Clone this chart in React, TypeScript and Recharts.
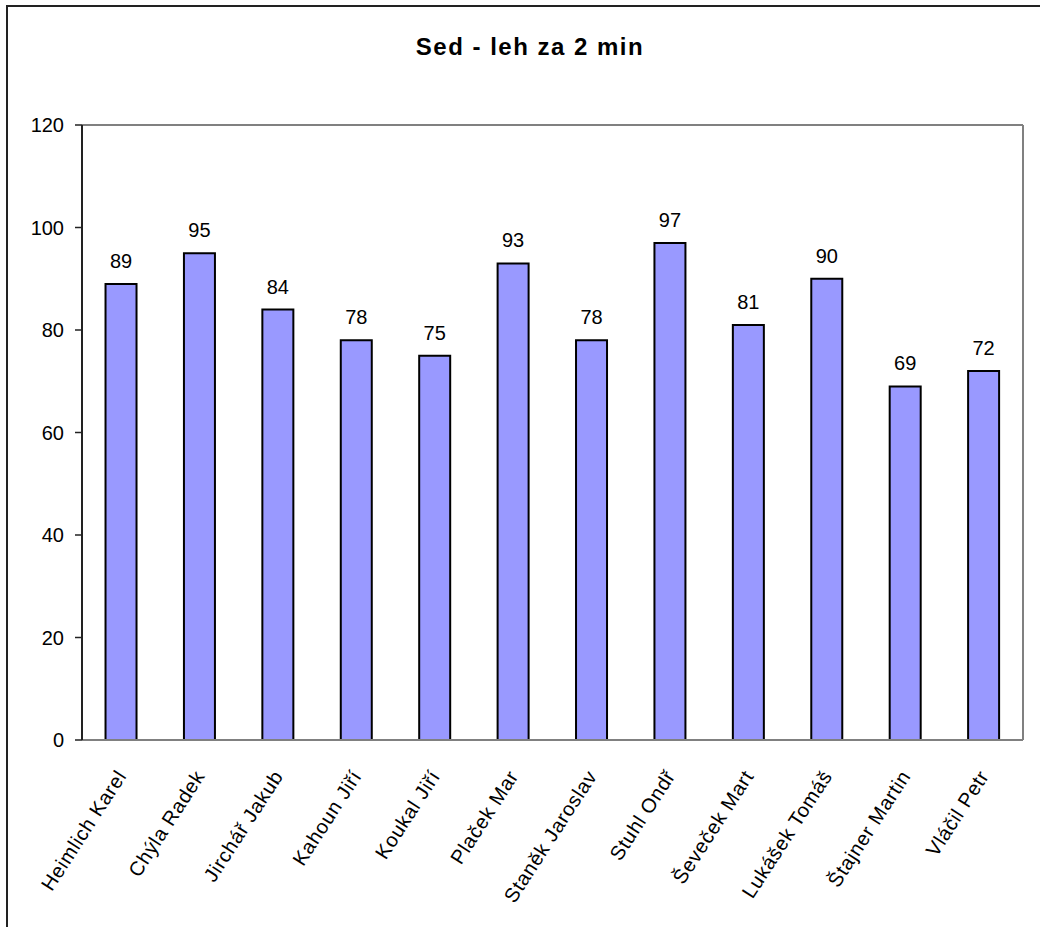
import { Bar, BarChart, LabelList, XAxis, YAxis } from 'recharts';

const names = [
  'Heimlich Karel',
  'Chýla Radek',
  'Jirchář Jakub',
  'Kahoun Jiří',
  'Koukal Jiří',
  'Plaček Mar',
  'Staněk Jaroslav',
  'Stuhl Ondř',
  'Ševeček Mart',
  'Lukášek Tomáš',
  'Štajner Martin',
  'Vláčil Petr',
];
const scores = [89, 95, 84, 78, 75, 93, 78, 97, 81, 90, 69, 72];
const yTicks = [0, 20, 40, 60, 80, 100, 120];

const data = names.map((name, i) => ({ name, value: scores[i] }));
const bounds = names.map((_, i) => i).concat(names.length);

const FONT = '"Liberation Sans", Arial, sans-serif';

function NameTick({ x, y, payload }: any) {
  return (
    <g transform={`translate(${x + 6},${y + 36}) rotate(-57)`}>
      <text textAnchor="end" fontSize={20} letterSpacing={0.7} fill="#000">
        {payload.value}
      </text>
    </g>
  );
}

export default function App() {
  return (
    <div
      style={{
        position: 'absolute',
        left: 0,
        top: 0,
        width: 1040,
        height: 927,
        overflow: 'hidden',
        background: '#fff',
        fontFamily: FONT,
      }}
    >
      {/* chart area frame, runs off the right and bottom edge */}
      <div
        style={{
          position: 'absolute',
          left: 6,
          top: 5,
          width: 1100,
          height: 1000,
          border: '2px solid #222',
        }}
      />
      <div
        style={{
          position: 'absolute',
          left: 0,
          top: 35,
          width: 1060,
          textAlign: 'center',
          fontSize: 24,
          lineHeight: '24px',
          fontWeight: 'bold',
          letterSpacing: 1.5,
          color: '#000',
        }}
      >
        Sed - leh za 2 min
      </div>
      <div style={{ position: 'absolute', left: 0, top: 0 }}>
        <BarChart
          width={1040}
          height={927}
          data={data}
          margin={{ top: 124, right: 16, left: 0, bottom: 185 }}
          barCategoryGap="30%"
        >
          <XAxis
            dataKey="name"
            height={1}
            interval={0}
            tickLine={false}
            tickSize={0}
            tickMargin={0}
            axisLine={{ stroke: '#808080', strokeWidth: 2 }}
            tick={<NameTick />}
          />
          <XAxis
            xAxisId="bounds"
            type="number"
            domain={[0, names.length]}
            ticks={bounds}
            interval={0}
            height={1}
            tick={false}
            tickSize={6}
            axisLine={false}
            tickLine={{ stroke: '#222', strokeWidth: 1.5 }}
          />
          <XAxis
            xAxisId="top"
            orientation="top"
            height={1}
            tick={false}
            tickLine={false}
            axisLine={{ stroke: '#808080', strokeWidth: 2 }}
          />
          <YAxis
            width={82}
            domain={[0, 120]}
            ticks={yTicks}
            interval={0}
            tickSize={7}
            tickMargin={11}
            axisLine={{ stroke: '#222', strokeWidth: 2 }}
            tickLine={{ stroke: '#222', strokeWidth: 1.5 }}
            tick={{ fontSize: 20, fill: '#000' }}
          />
          <YAxis
            yAxisId="right"
            orientation="right"
            width={1}
            tick={false}
            tickLine={false}
            axisLine={{ stroke: '#808080', strokeWidth: 2 }}
          />
          <Bar dataKey="value" fill="#9999FF" stroke="#000" strokeWidth={2} isAnimationActive={false}>
            <LabelList dataKey="value" position="top" offset={16} fontSize={20} fill="#000" />
          </Bar>
        </BarChart>
      </div>
    </div>
  );
}
